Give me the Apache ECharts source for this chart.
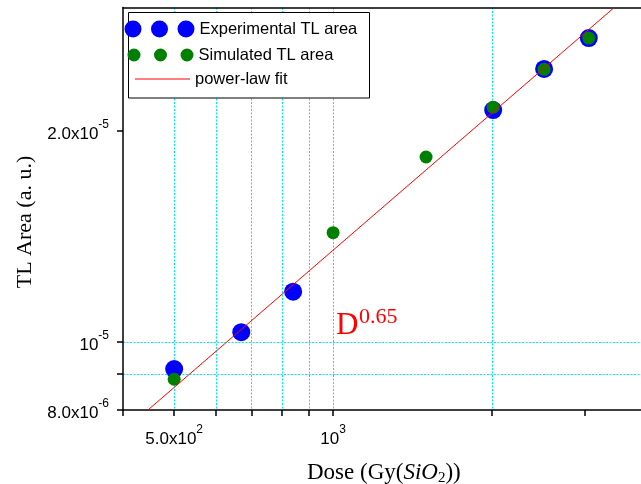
<!DOCTYPE html>
<html><head><meta charset="utf-8">
<script src="https://cdn.jsdelivr.net/npm/echarts@6/dist/echarts.min.js"></script>
<style>html,body{margin:0;padding:0;background:#fff}#c{width:641px;height:484px}</style>
</head><body><div id="c"></div>
<script>
const doseExp = [500, 670, 840, 2010, 2510, 3050];
const areaExp = [9.15e-6, 1.033e-5, 1.18e-5, 2.142e-5, 2.452e-5, 2.713e-5];
const doseSim = [500, 1000, 1500, 2010, 2510, 3050];
const areaSim = [8.85e-6, 1.432e-5, 1.836e-5, 2.162e-5, 2.449e-5, 2.713e-5];
const fitDose = [446, 3408];
const fitArea = [8.0e-6, 3.0e-5];
const xTickValues = [400, 500, 600, 700, 800, 900, 1000, 2000, 3000];
const xLabelValues = [500, 1000];
const xLabelTexts = [['5.0x10', '2'], ['10', '3']];
const yTickValues = [8e-6, 9e-6, 1e-5, 2e-5];
const yLabelValues = [8e-6, 1e-5, 2e-5];
const yLabelTexts = [['8.0x10', '-6'], ['10', '-5'], ['2.0x10', '-5']];
const seriesNames = ['Experimental TL area', 'Simulated TL area', 'power-law fit'];
const fitLabel = ['D', '0.65'];
const xTitle = ['Dose (Gy(', 'SiO', '2', '))'];
const yTitle = 'TL Area (a. u.)';

function makeFormatter(vals, texts) {
  return function (v) {
    for (let i = 0; i < vals.length; i++) {
      if (Math.abs(Math.log10(v / vals[i])) < 1e-6) {
        return '{m|' + texts[i][0] + '}{s|' + texts[i][1] + '}';
      }
    }
    return '';
  };
}
const sans = 'Liberation Sans';
const serif = 'Liberation Serif';
const labelRich = {
  m: { fontSize: 17, fontFamily: sans, color: '#000', lineHeight: 24, verticalAlign: 'bottom' },
  s: { fontSize: 12, fontFamily: sans, color: '#000', lineHeight: 24, verticalAlign: 'top' }
};
const gridLine = { show: true, showMinLine: false, showMaxLine: false, lineStyle: { color: '#00e8f8', width: 1, type: [2, 1.5] } };

const chart = echarts.init(document.getElementById('c'));
const legendText = { fontSize: 16.5, fontFamily: sans, color: '#000' };
chart.setOption({
  animation: false,
  grid: { left: 123, top: 7.5, right: 0, height: 402.5, show: false },
  xAxis: [{
    type: 'log', logBase: 10, min: 400, max: 3830,
    axisLine: { show: true, lineStyle: { color: '#000', width: 1.5 } },
    axisTick: { show: true, customValues: xTickValues, length: 6, lineStyle: { color: '#000', width: 1.5 } },
    axisLabel: { show: true, customValues: xLabelValues, margin: 14, formatter: makeFormatter(xLabelValues, xLabelTexts), rich: labelRich },
    splitLine: gridLine,
    minorTick: { show: false }, minorSplitLine: { show: false }
  }, {
    type: 'log', logBase: 10, min: 400, max: 3830, position: 'top',
    axisLine: { show: true, lineStyle: { color: '#000', width: 1.5 } },
    axisTick: { show: false }, axisLabel: { show: false }, splitLine: { show: false }
  }],
  yAxis: {
    type: 'log', logBase: 10, min: 8e-6, max: 3e-5,
    axisLine: { show: true, lineStyle: { color: '#000', width: 1.5 } },
    axisTick: { show: true, customValues: yTickValues, length: 6, lineStyle: { color: '#000', width: 1.5 } },
    axisLabel: { show: true, customValues: yLabelValues, margin: 14, formatter: makeFormatter(yLabelValues, yLabelTexts), rich: labelRich },
    splitLine: gridLine,
    minorTick: { show: false }, minorSplitLine: { show: false }
  },
  legend: [
    { data: [seriesNames[0]], left: 124.5, top: 20.5, padding: 0, itemWidth: 70, itemHeight: 17, selectedMode: false, textStyle: legendText,
      icon: 'path://M0,8.5A8.5,8.5,0,1,1,17,8.5A8.5,8.5,0,1,1,0,8.5Z M26.5,8.5A8.5,8.5,0,1,1,43.5,8.5A8.5,8.5,0,1,1,26.5,8.5Z M53,8.5A8.5,8.5,0,1,1,70,8.5A8.5,8.5,0,1,1,53,8.5Z' },
    { data: [seriesNames[1]], left: 127.5, top: 46.5, padding: 0, itemWidth: 66, itemHeight: 13, selectedMode: false, textStyle: legendText,
      icon: 'path://M0,6.5A6.5,6.5,0,1,1,13,6.5A6.5,6.5,0,1,1,0,6.5Z M26.5,6.5A6.5,6.5,0,1,1,39.5,6.5A6.5,6.5,0,1,1,26.5,6.5Z M53,6.5A6.5,6.5,0,1,1,66,6.5A6.5,6.5,0,1,1,53,6.5Z' },
    { data: [seriesNames[2]], left: 135, top: 70.5, padding: 0, itemWidth: 55, itemHeight: 1, selectedMode: false, textStyle: legendText,
      icon: 'path://M0,0H55V1H0Z' }
  ],
  graphic: [
    { type: 'rect', z: 3, shape: { x: 128.5, y: 12.5, width: 241, height: 85.5 }, style: { fill: '#fff', stroke: '#000', lineWidth: 1 } },
    { type: 'text', z: 10, x: 336, y: 326, style: { text: fitLabel[0], fontSize: 31, fontFamily: serif, fill: '#ff0000', align: 'left', verticalAlign: 'middle' } },
    { type: 'text', z: 10, x: 359, y: 317, style: { text: fitLabel[1], fontSize: 22, fontFamily: serif, fill: '#ff0000', align: 'left', verticalAlign: 'middle' } },
    { type: 'text', z: 10, x: 307, y: 473.4, style: {
        text: '{n|' + xTitle[0] + '}{i|' + xTitle[1] + '}{b|' + xTitle[2] + '}{n|' + xTitle[3] + '}',
        align: 'left', verticalAlign: 'middle',
        rich: {
          n: { fontSize: 23, fontFamily: serif, fill: '#000', lineHeight: 24, verticalAlign: 'top' },
          i: { fontSize: 23, fontFamily: serif, fontStyle: 'italic', fill: '#000', lineHeight: 24, verticalAlign: 'top' },
          b: { fontSize: 15, fontFamily: serif, fill: '#000', lineHeight: 24, verticalAlign: 'bottom' }
        } } },
    { type: 'text', z: 10, x: 25, y: 222, rotation: Math.PI / 2, style: { text: yTitle, fontSize: 22, fontFamily: serif, fill: '#000', align: 'center', verticalAlign: 'middle' } }
  ],
  series: [
    { name: seriesNames[0], type: 'scatter', symbol: 'circle', symbolSize: 18, itemStyle: { color: '#0000ff', opacity: 1 }, z: 2,
      data: doseExp.map((d, i) => [d, areaExp[i]]) },
    { name: seriesNames[1], type: 'scatter', symbol: 'circle', symbolSize: 13, itemStyle: { color: '#008000', opacity: 1 }, z: 3,
      data: doseSim.map((d, i) => [d, areaSim[i]]) },
    { name: seriesNames[2], type: 'line', symbol: 'none', color: '#ff0000', lineStyle: { color: '#ff0000', width: 1 }, z: 4,
      data: fitDose.map((d, i) => [d, fitArea[i]]) }
  ]
});
</script></body></html>
